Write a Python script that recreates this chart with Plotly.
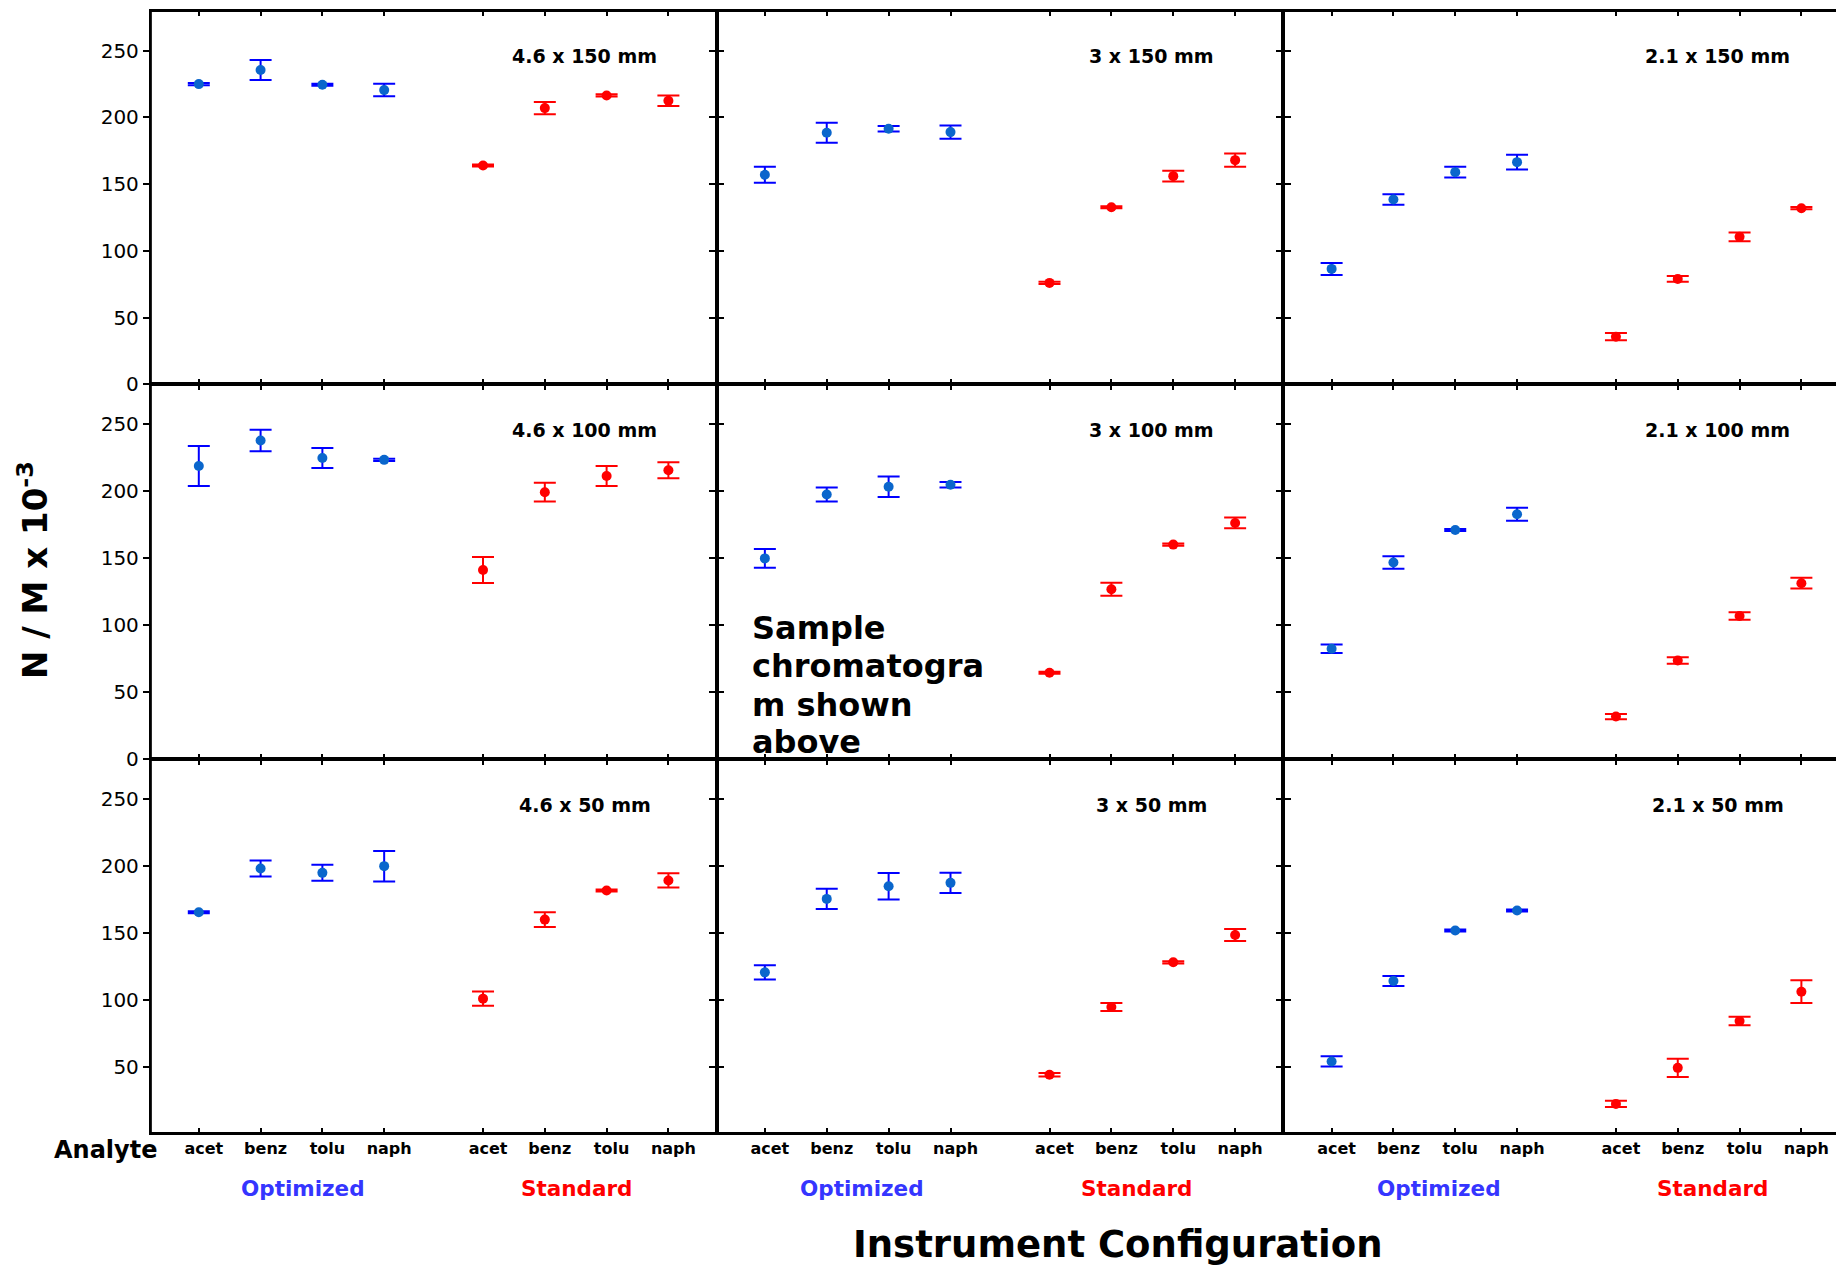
import plotly.graph_objects as go

W, H = 1836, 1268

analytes = ["acet", "benz", "tolu", "naph"]
opt_pos = [1, 2, 3, 4]
std_pos = [5.6, 6.6, 7.6, 8.6]
tick_pos = opt_pos + std_pos
tick_text = analytes + analytes

diameters = ["4.6", "3", "2.1"]          # columns
lengths = ["150", "100", "50"]           # rows
y_ticks_full = [0, 50, 100, 150, 200, 250]
y_ticks_bottom = [50, 100, 150, 200, 250]

note_lines = ["Sample", "chromatogra", "m shown", "above"]

# N/M x 10^-3 : mean and error, per configuration
opt_46_150 = [225, 235.5, 224.5, 220.5]; opt_46_150_err = [0.8, 7.5, 0.8, 4.7]
std_46_150 = [164, 207, 216.5, 212.5];   std_46_150_err = [0.8, 4.6, 0.8, 4.0]
opt_3_150 = [157, 188.5, 191.5, 189];    opt_3_150_err = [6, 7.5, 2, 5]
std_3_150 = [76, 132.7, 156, 168];       std_3_150_err = [0.8, 0.8, 4, 5]
opt_21_150 = [86.5, 138.5, 159, 166.5];  opt_21_150_err = [4.5, 4, 4, 5.5]
std_21_150 = [35.7, 79, 110.5, 132];     std_21_150_err = [2.7, 2.2, 3.2, 0.8]

opt_46_100 = [219, 238, 225, 223.6];     opt_46_100_err = [15, 8, 7.5, 0.8]
std_46_100 = [141.3, 199.4, 211.5, 215.8]; std_46_100_err = [9.7, 7, 7.5, 6]
opt_3_100 = [150, 197.7, 203.5, 205];    opt_3_100_err = [7, 5.3, 7.6, 2]
std_3_100 = [64.6, 127, 160.3, 176.5];   std_3_100_err = [0.8, 4.8, 0.8, 4]
opt_21_100 = [82.5, 147, 171.2, 183];    opt_21_100_err = [3.2, 4.7, 0.8, 4.8]
std_21_100 = [31.9, 73.8, 107, 131.5];   std_21_100_err = [2, 2.4, 2.8, 4]

opt_46_50 = [165.5, 198.3, 195, 200];    opt_46_50_err = [0.8, 6, 6, 11.4]
std_46_50 = [100.8, 160, 181.8, 189.3];  std_46_50_err = [5.4, 5.5, 0.8, 5.3]
opt_3_50 = [120.5, 175.5, 185, 187.5];   opt_3_50_err = [5.4, 7.6, 9.9, 7.6]
std_3_50 = [43.8, 94.5, 128, 148.5];     std_3_50_err = [1.3, 3, 0.8, 4.5]
opt_21_50 = [53.8, 114, 151.8, 166.8];   opt_21_50_err = [3.8, 3.7, 0.8, 0.8]
std_21_50 = [22, 49, 84, 106];           std_21_50_err = [2.4, 6.9, 3.2, 8.5]

panels = [
    [(opt_46_150, opt_46_150_err, std_46_150, std_46_150_err),
     (opt_3_150, opt_3_150_err, std_3_150, std_3_150_err),
     (opt_21_150, opt_21_150_err, std_21_150, std_21_150_err)],
    [(opt_46_100, opt_46_100_err, std_46_100, std_46_100_err),
     (opt_3_100, opt_3_100_err, std_3_100, std_3_100_err),
     (opt_21_100, opt_21_100_err, std_21_100, std_21_100_err)],
    [(opt_46_50, opt_46_50_err, std_46_50, std_46_50_err),
     (opt_3_50, opt_3_50_err, std_3_50, std_3_50_err),
     (opt_21_50, opt_21_50_err, std_21_50, std_21_50_err)],
]

OPT_BAR = "#0000ff"
OPT_MARK = "#0a66cc"
STD = "#ff0000"
FONT = "DejaVu Sans"

col_px = [(150.6, 716.6), (716.6, 1283.4), (1283.4, 1836)]
row_px = [(10.7, 384.3), (384.3, 759.3), (759.3, 1133.3)]
x_ranges = [[0.22, 9.38], [0.22, 9.38], [0.22, 9.16]]

fig = go.Figure()
layout = dict(
    width=W, height=H, autosize=False,
    margin=dict(l=0, r=0, t=0, b=0, pad=0),
    paper_bgcolor="white", plot_bgcolor="white",
    showlegend=False,
    font=dict(family=FONT, color="black"),
)
annotations = []

for r in range(3):
    for c in range(3):
        i = r * 3 + c + 1
        xs = "" if i == 1 else str(i)
        xref, yref = "x" + xs, "y" + xs
        ov, oe, sv, se = panels[r][c]
        fig.add_trace(go.Scatter(
            x=opt_pos, y=ov, mode="markers", xaxis=xref, yaxis=yref,
            marker=dict(color=OPT_MARK, size=10),
            error_y=dict(type="data", array=oe, visible=True, color=OPT_BAR,
                         thickness=2, width=11),
        ))
        fig.add_trace(go.Scatter(
            x=std_pos, y=sv, mode="markers", xaxis=xref, yaxis=yref,
            marker=dict(color=STD, size=10),
            error_y=dict(type="data", array=se, visible=True, color=STD,
                         thickness=2, width=11),
        ))
        x0, x1 = col_px[c]
        y0, y1 = row_px[r]
        layout["xaxis" + xs] = dict(
            domain=[x0 / W, x1 / W], range=x_ranges[c], anchor=yref,
            tickvals=tick_pos, ticktext=tick_text,
            showticklabels=(r == 2), ticklabelshift=5,
            tickfont=dict(family=FONT, size=16, weight="bold", color="black"),
            ticks="inside", ticklen=6, tickwidth=2, tickcolor="black",
            showline=True, linewidth=1.5, linecolor="black", mirror="ticks",
            showgrid=False, zeroline=False, fixedrange=True, automargin=False,
        )
        layout["yaxis" + xs] = dict(
            domain=[1 - y1 / H, 1 - y0 / H], range=[0, 280], anchor=xref,
            tickvals=y_ticks_bottom if r == 2 else y_ticks_full,
            showticklabels=(c == 0),
            tickfont=dict(family=FONT, size=20, color="black"),
            ticks="outside", ticklen=6, tickwidth=2, tickcolor="black",
            showline=True, linewidth=1.5, linecolor="black",
            mirror="ticks" if c < 2 else False,
            showgrid=False, zeroline=False, fixedrange=True, automargin=False,
        )
        annotations.append(dict(
            x=7.25, y=246, xref=xref, yref=yref,
            text=f"{diameters[c]} x {lengths[r]} mm", showarrow=False,
            font=dict(family=FONT, size=19, weight="bold", color="black"),
            xanchor="center", yanchor="middle",
        ))

# Sample chromatogram note in middle panel, one annotation per line
note_y = [98.3, 69.4, 40.8, 13.2]
for txt, ny in zip(note_lines, note_y):
    annotations.append(dict(
        x=0.765, y=ny, xref="x5", yref="y5",
        text=txt, showarrow=False, align="left", xanchor="left", yanchor="middle",
        font=dict(family=FONT, size=32, weight="bold", color="black"),
    ))

# Group labels
group_x = [(302.6, 576), (862, 1136), (1438.8, 1712)]
for ox, sx in group_x:
    annotations.append(dict(x=ox / W, y=1 - 1188 / H, xref="paper", yref="paper",
                            xanchor="center", yanchor="middle",
                            text="Optimized", showarrow=False,
                            font=dict(family=FONT, size=21.5, weight="bold", color="#3535ff")))
    annotations.append(dict(x=sx / W, y=1 - 1188 / H, xref="paper", yref="paper",
                            xanchor="center", yanchor="middle",
                            text="Standard", showarrow=False,
                            font=dict(family=FONT, size=21.5, weight="bold", color="#ff0000")))

annotations.append(dict(x=158.5 / W, y=1 - 1150 / H, xref="paper", yref="paper",
                        text="Analyte", showarrow=False, xanchor="right", yanchor="middle",
                        font=dict(family=FONT, size=24, weight="bold", color="black")))
annotations.append(dict(x=1117 / W, y=1 - 1244 / H, xref="paper", yref="paper",
                        text="Instrument Configuration", showarrow=False,
                        xanchor="center", yanchor="middle",
                        font=dict(family=FONT, size=37, weight="bold", color="black")))
annotations.append(dict(x=33 / W, y=1 - 570 / H, xref="paper", yref="paper",
                        text="N / M x 10<sup>-3</sup>", showarrow=False, textangle=-90,
                        xanchor="center", yanchor="middle",
                        font=dict(family=FONT, size=34, weight="bold", color="black")))

# thicker outer frame
shapes = [
    dict(type="line", xref="paper", yref="paper", x0=150.6 / W, x1=150.6 / W,
         y0=1 - 1133.3 / H, y1=1 - 10.7 / H, line=dict(color="black", width=2.5)),
    dict(type="line", xref="paper", yref="paper", x0=150.6 / W, x1=1.0,
         y0=1 - 10.7 / H, y1=1 - 10.7 / H, line=dict(color="black", width=2.5)),
    dict(type="line", xref="paper", yref="paper", x0=150.6 / W, x1=1.0,
         y0=1 - 1133.3 / H, y1=1 - 1133.3 / H, line=dict(color="black", width=2.5)),
]

layout["annotations"] = annotations
layout["shapes"] = shapes
fig.update_layout(**layout)
fig.write_html("out.html")
